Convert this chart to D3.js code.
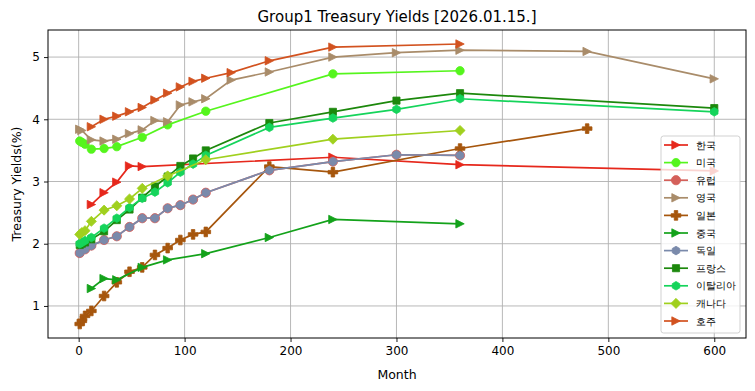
<!DOCTYPE html>
<html><head><meta charset="utf-8">
<script src="https://cdn.jsdelivr.net/npm/d3@7"></script>
<style>body{margin:0;background:#fff}text{font-family:"DejaVu Sans",sans-serif}</style>
</head><body>
<svg id="c" width="755" height="391"></svg>
<script>
// ---- data ----
const seriesNames = ["한국","미국","유럽","영국","일본","중국","독일","프랑스","이탈리아","캐나다","호주"];
const koreaMonths = [12,24,36,48,60,240,360,600];
const koreaYields = [2.63,2.82,2.99,3.25,3.24,3.39,3.27,3.17];
const usMonths = [1,3,6,12,24,36,60,84,120,240,360];
const usYields = [3.65,3.63,3.60,3.52,3.53,3.56,3.71,3.91,4.13,4.73,4.78];
const euMonths = [1,6,12,24,36,48,60,72,84,96,108,120,180,240,300,360];
const euYields = [1.85,1.91,1.97,2.06,2.12,2.27,2.41,2.41,2.57,2.62,2.71,2.82,3.18,3.32,3.43,3.42];
const ukMonths = [1,3,12,24,36,48,60,72,84,96,108,120,144,180,240,300,360,480,600];
const ukYields = [3.84,3.82,3.67,3.65,3.68,3.77,3.83,3.98,3.96,4.23,4.28,4.33,4.63,4.76,5.00,5.07,5.11,5.09,4.65];
const jpMonths = [1,3,6,12,24,36,48,60,72,84,96,108,120,180,240,360,480];
const jpYields = [0.71,0.76,0.84,0.92,1.16,1.38,1.55,1.62,1.82,1.93,2.06,2.15,2.19,3.24,3.15,3.53,3.85];
const cnMonths = [12,24,36,60,84,120,180,240,360];
const cnYields = [1.28,1.44,1.42,1.62,1.74,1.84,2.10,2.39,2.32];
const deMonths = [1,6,12,24,36,48,60,72,84,96,108,120,180,240,300,360];
const deYields = [1.85,1.91,1.97,2.06,2.12,2.27,2.41,2.41,2.57,2.62,2.71,2.82,3.18,3.32,3.43,3.42];
const frMonths = [1,3,6,12,24,36,48,60,72,84,96,108,120,180,240,300,360,600];
const frYields = [1.98,2.00,2.02,2.07,2.20,2.38,2.55,2.74,2.92,3.08,3.25,3.37,3.50,3.94,4.12,4.30,4.42,4.18];
const itMonths = [1,3,6,12,24,36,48,60,72,84,96,108,120,180,240,300,360,600];
const itYields = [2.00,2.02,2.05,2.10,2.25,2.41,2.58,2.73,2.83,2.98,3.15,3.28,3.42,3.87,4.02,4.16,4.33,4.12];
const caMonths = [1,3,6,12,24,36,48,60,84,120,240,360];
const caYields = [2.15,2.18,2.21,2.36,2.54,2.61,2.72,2.89,3.09,3.35,3.68,3.82];
const auMonths = [12,24,36,48,60,72,84,96,108,120,144,180,240,360];
const auYields = [3.88,4.00,4.05,4.12,4.19,4.31,4.42,4.52,4.61,4.66,4.75,4.94,5.16,5.21];
const xTicks = [0,100,200,300,400,500,600];
const yTicks = [1,2,3,4,5];
const titleText = "Group1 Treasury Yields [2026.01.15.]";

const colors = ["#e6281c","#55f51d","#d4605a","#a98c6a","#a6560d","#13a21a","#7a8aab","#1c880c","#15d45b","#a0d01e","#d2521f"];
const markers = [">","o","o",">","P",">","h","s","h","D",">"];
const monthsList = [koreaMonths,usMonths,euMonths,ukMonths,jpMonths,cnMonths,deMonths,frMonths,itMonths,caMonths,auMonths];
const yieldsList = [koreaYields,usYields,euYields,ukYields,jpYields,cnYields,deYields,frYields,itYields,caYields,auYields];
const series = seriesNames.map((n,i)=>({name:n,color:colors[i],marker:markers[i],
  pts:monthsList[i].map((m,j)=>({m:m,y:yieldsList[i][j]}))}));

// ---- layout ----
const svg = d3.select("#c");
const L=48,R=746,T=30,B=338;
const allM = series.flatMap(s=>s.pts.map(p=>p.m));
const allY = series.flatMap(s=>s.pts.map(p=>p.y));
const mx=d3.extent(allM), my=d3.extent(allY);
const padX=(mx[1]-mx[0])*0.05, padY=(my[1]-my[0])*0.05;
const x=d3.scaleLinear().domain([mx[0]-padX,mx[1]+padX]).range([L,R]);
const y=d3.scaleLinear().domain([my[0]-padY,my[1]+padY]).range([B,T]);

// grid
const g=svg.append("g");
g.selectAll(".gx").data(xTicks).join("line").attr("x1",d=>x(d)).attr("x2",d=>x(d))
 .attr("y1",T).attr("y2",B).attr("stroke","#b0b0b0").attr("stroke-width",0.9);
g.selectAll(".gy").data(yTicks).join("line").attr("y1",d=>y(d)).attr("y2",d=>y(d))
 .attr("x1",L).attr("x2",R).attr("stroke","#b0b0b0").attr("stroke-width",0.9);

// marker drawing
function markerPath(type, s){
  const r=s;
  switch(type){
    case ">": return `M${r},0L${-r},${r}L${-r},${-r}Z`;
    case "s": return `M${-r*0.85},${-r*0.85}H${r*0.85}V${r*0.85}H${-r*0.85}Z`;
    case "D": { const d=r*1.2; return `M0,${-d}L${d},0L0,${d}L${-d},0Z`; }
    case "h": { let p=""; for(let k=0;k<6;k++){const a=Math.PI/2+k*Math.PI/3; p+=(k?"L":"M")+(r*1.0*Math.cos(a)).toFixed(2)+","+(r*1.0*Math.sin(a)).toFixed(2);} return p+"Z"; }
    case "P": { const a=r*1.05, w=r*0.38; return `M${-w},${-a}H${w}V${-w}H${a}V${w}H${w}V${a}H${-w}V${w}H${-a}V${-w}H${-w}Z`; }
    default: return d3.symbol(d3.symbolCircle, Math.PI*r*r)();
  }
}
const mSize = {">":4.2,"o":4.2,"s":4.2,"D":4.2,"h":4.3,"P":4.6};

const plot=svg.append("g");
const line=d3.line().x(d=>x(d.m)).y(d=>y(d.y));
series.forEach((s,i)=>{
  const gg=plot.append("g");
  gg.append("path").attr("d",line(s.pts)).attr("fill","none").attr("stroke",s.color).attr("stroke-width",1.7);
  const sz = s.name==="유럽"? 4.6 : mSize[s.marker];
  gg.selectAll("path.m").data(s.pts).join("path").attr("class","m")
    .attr("d",markerPath(s.marker,sz))
    .attr("transform",d=>`translate(${x(d.m)},${y(d.y)})`)
    .attr("fill",s.color).attr("stroke",s.color).attr("stroke-width",0.8);
});

// frame
svg.append("rect").attr("x",L).attr("y",T).attr("width",R-L).attr("height",B-T)
 .attr("fill","none").attr("stroke","#000").attr("stroke-width",1);

// axes
const xa=svg.append("g").attr("transform",`translate(0,${B})`)
  .call(d3.axisBottom(x).tickValues(xTicks).tickSize(4).tickPadding(4).tickFormat(d3.format("d")));
const ya=svg.append("g").attr("transform",`translate(${L},0)`)
  .call(d3.axisLeft(y).tickValues(yTicks).tickSize(4).tickPadding(4).tickFormat(d3.format("d")));
[xa,ya].forEach(a=>{a.select(".domain").remove();
  a.selectAll("text").attr("font-size","12px").attr("fill","#000").attr("font-family","DejaVu Sans");
  a.selectAll("line").attr("stroke","#000").attr("stroke-width",0.9);});

// labels
svg.append("text").attr("x",(L+R)/2).attr("y",22).attr("text-anchor","middle")
 .attr("font-size","15px").text(titleText);
svg.append("text").attr("x",(L+R)/2).attr("y",379).attr("text-anchor","middle")
 .attr("font-size","12.5px").text("Month");
svg.append("text").attr("transform",`translate(21,${(T+B)/2}) rotate(-90)`).attr("text-anchor","middle")
 .attr("font-size","12.5px").text("Treasury Yields(%)");

// legend
const lg=svg.append("g");
const lx=661, ly=136, lw=79, lh=197;
lg.append("rect").attr("x",lx).attr("y",ly).attr("width",lw).attr("height",lh).attr("rx",2.5)
 .attr("fill","#fff").attr("fill-opacity",0.8).attr("stroke","#cccccc").attr("stroke-width",0.9);
series.forEach((s,i)=>{
  const yy=ly+9+i*17.6;
  lg.append("line").attr("x1",664).attr("x2",688).attr("y1",yy).attr("y2",yy).attr("stroke",s.color).attr("stroke-width",1.7);
  const sz = s.name==="유럽"? 4.6 : mSize[s.marker];
  lg.append("path").attr("d",markerPath(s.marker,sz)).attr("transform",`translate(676,${yy})`)
    .attr("fill",s.color).attr("stroke",s.color).attr("stroke-width",0.8);
  lg.append("text").attr("x",696).attr("y",yy+3.5).attr("font-size","10px")
    .attr("font-family","'Noto Sans CJK KR',sans-serif").text(s.name);
});
</script>
</body></html>
